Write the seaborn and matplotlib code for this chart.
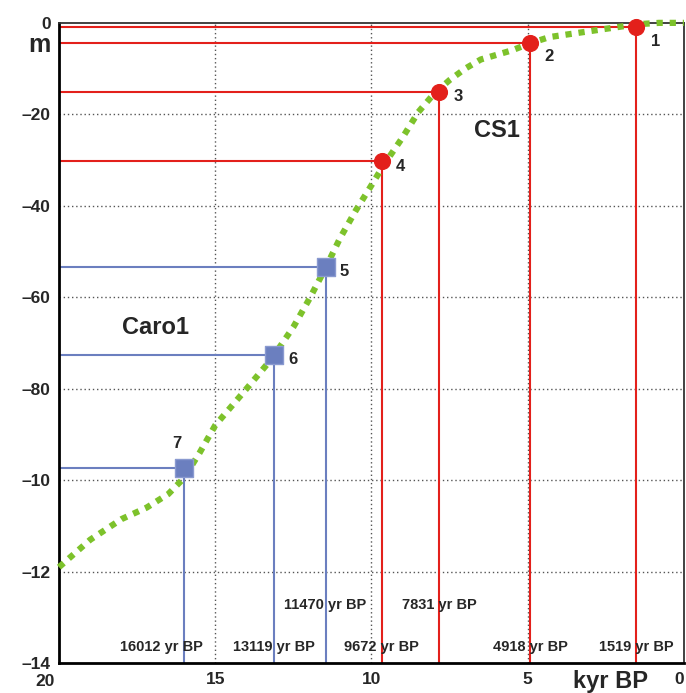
import numpy as np
import pandas as pd
import matplotlib
matplotlib.use("Agg")
import matplotlib.pyplot as plt
import seaborn as sns

# sea-level curve (kyr BP, m)
curve_age = [20, 19, 18, 17.2, 16.5, 16.0, 15.5, 15.0, 14.0, 13.2, 12.5, 12.0, 11.5, 11.0,
             10.5, 10.0, 9.6, 9.0, 8.5, 8.0, 7.5, 7.0, 6.5, 5.5, 4.9, 4.3, 3.2, 2.1, 1.5, 0.8, 0]
curve_depth = [-119, -113, -108.5, -106, -103, -99.5, -94, -88, -80, -73.5, -66.5, -60.5, -54, -47,
               -41, -35.5, -31, -25, -19.5, -15.5, -12.5, -10, -8, -6, -4.4, -3.1, -2.0, -0.9, -0.3, 0, 0]

# CS1 dated samples
cs1_id = ["1", "2", "3", "4"]
cs1_age = [1.519, 4.918, 7.831, 9.672]
cs1_depth = [-1.0, -4.4, -15.1, -30.3]

# Caro1 dated samples
caro_id = ["5", "6", "7"]
caro_age = [11.470, 13.119, 16.012]
caro_depth = [-53.3, -72.6, -97.4]

age_labels = {1.519: "1519 yr BP", 4.918: "4918 yr BP", 7.831: "7831 yr BP", 9.672: "9672 yr BP",
              11.470: "11470 yr BP", 13.119: "13119 yr BP", 16.012: "16012 yr BP"}

yticks = [0, -20, -40, -60, -80, -100, -120, -140]
ytick_labels = ["0", "\u201320", "\u201340", "\u201360", "\u201380", "\u201310", "\u201312", "\u201314"]
xticks = [20, 15, 10, 5, 0]

RED = "#e3201b"
BLUE = "#6b7fbf"
GREEN = "#7dc22b"

sns.set_style("white")
plt.rcParams["font.family"] = ["Liberation Sans", "DejaVu Sans"]
plt.rcParams["font.weight"] = "bold"

fig = plt.figure(figsize=(6.86, 6.93), dpi=100)
ax = fig.add_axes([0.086, 0.043, 0.911, 0.924])

# grid
for gx in [15, 10, 5]:
    ax.axvline(gx, color="#555555", lw=1, ls=(0, (1, 2)), zorder=1)
for gy in [-20, -40, -60, -80, -100, -120]:
    ax.axhline(gy, color="#555555", lw=1, ls=(0, (1, 2)), zorder=1)

# reference lines to axes
ax.hlines(cs1_depth, 20, cs1_age, color=RED, lw=1.5, zorder=2)
ax.vlines(cs1_age, -140, cs1_depth, color=RED, lw=1.5, zorder=2)
ax.hlines(caro_depth, 20, caro_age, color=BLUE, lw=1.5, zorder=2)
ax.vlines(caro_age, -140, caro_depth, color=BLUE, lw=1.5, zorder=2)

# curve
df_curve = pd.DataFrame({"age": curve_age, "depth": curve_depth})
sns.lineplot(data=df_curve, x="age", y="depth", ax=ax, color=GREEN, lw=4.5,
             sort=False, zorder=3, clip_on=False)
ax.lines[-1].set_dashes([1, 1.1])
ax.lines[-1].set_dash_capstyle("butt")

# samples
df_cs1 = pd.DataFrame({"age": cs1_age, "depth": cs1_depth})
df_caro = pd.DataFrame({"age": caro_age, "depth": caro_depth})
sns.scatterplot(data=df_cs1, x="age", y="depth", ax=ax, color=RED, marker="o", s=130,
                edgecolor=RED, zorder=4, clip_on=False)
sns.scatterplot(data=df_caro, x="age", y="depth", ax=ax, color=BLUE, marker="s", s=150,
                edgecolor="#8a9ad0", lw=1, zorder=4)

for i, a, d in zip(cs1_id + caro_id[:2], cs1_age + caro_age[:2], cs1_depth + caro_depth[:2]):
    dy = -3 if i in ("1", "2") else -1
    ax.text(a - 0.45, d + dy, i, fontsize=12, fontweight="bold", ha="left", va="center")
ax.text(caro_age[2] + 0.2, caro_depth[2] + 5.5, caro_id[2], fontsize=12, fontweight="bold",
        ha="center", va="center")

# age labels at the bottom
for a, lab in age_labels.items():
    y = -127.3 if a in (7.831, 11.470) else -136.4
    xoff = 0.7 if a == 16.012 else 0.0
    ax.text(a + xoff, y, lab, fontsize=10.5, fontweight="bold", ha="center", va="center")

ax.text(6.0, -23.5, "CS1", fontsize=17, fontweight="bold", ha="center", va="center")
ax.text(16.9, -66.5, "Caro1", fontsize=17, fontweight="bold", ha="center", va="center")

ax.set_xlim(20, 0)
ax.set_ylim(-140, 0)
ax.set_xticks(xticks)
ax.set_xticklabels([""] + [str(v) for v in xticks[1:]], fontsize=12.5, fontweight="bold")
ax.set_yticks(yticks)
ax.set_yticklabels(ytick_labels, fontsize=12.5, fontweight="bold")
ax.tick_params(length=0, pad=6)
ax.set_xlabel("")
ax.set_ylabel("")
ax.get_xticklabels()[-1].set_ha("right")
# "20" sits a little left of the corner
ax.annotate("20", xy=(20, -140), xytext=(-10, -8), textcoords="offset points",
            fontsize=12.5, fontweight="bold", ha="center", va="top", annotation_clip=False)

fig.text(0.058, 0.935, "m", fontsize=18, fontweight="bold", ha="center", va="center")
fig.text(0.89, 0.016, "kyr BP", fontsize=17, fontweight="bold", ha="center", va="center")

for side in ["left", "bottom"]:
    ax.spines[side].set_linewidth(2)
    ax.spines[side].set_color("black")
for side in ["top", "right"]:
    ax.spines[side].set_linewidth(1.3)
    ax.spines[side].set_color("#333333")

fig.savefig("out.png", dpi=100)
